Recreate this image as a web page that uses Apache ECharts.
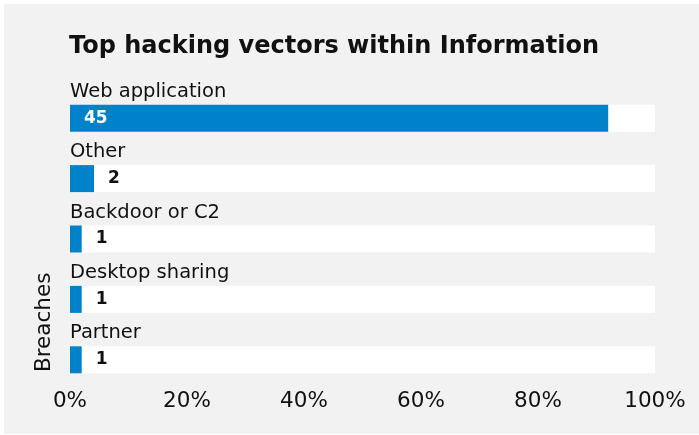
<!DOCTYPE html>
<html>
<head>
<meta charset="utf-8">
<script src="https://cdn.jsdelivr.net/npm/echarts@6/dist/echarts.min.js"></script>
<style>
  html, body { margin: 0; padding: 0; background: #fff; }
  #chart { width: 699px; height: 435px; }
</style>
</head>
<body>
<div id="chart"></div>
<script>
// Chart data
const categories = ['Web application', 'Other', 'Backdoor or C2', 'Desktop sharing', 'Partner']
const breachCounts = [45, 2, 1, 1, 1]
const breachShares = [92, 4.1, 2, 2, 2] // percent of breaches
const xTicks = [0, 20, 40, 60, 80, 100]

const BLUE = '#0082ca'
const PANEL = '#f2f2f2'
const FONT = '"DejaVu Sans", "Liberation Sans", Arial, sans-serif'

const chart = echarts.init(document.getElementById('chart'), null, { renderer: 'canvas' })

// big bars carry their count inside, small ones just to the right
const barData = breachShares.map((v) => {
  const inside = v > 20
  return {
    value: v,
    label: {
      position: inside ? 'insideLeft' : 'right',
      distance: 14,
      color: inside ? '#fff' : '#111',
    },
  }
})

chart.setOption({
  backgroundColor: '#fff',
  animation: false,
  textStyle: { fontFamily: FONT },
  graphic: [
    {
      type: 'rect',
      z: -10,
      silent: true,
      shape: { x: 4, y: 4, width: 695, height: 430 },
      style: { fill: PANEL },
    },
    {
      type: 'text',
      x: 44,
      y: 372,
      rotation: Math.PI / 2,
      style: {
        text: 'Breaches',
        font: '21.5px ' + FONT,
        fill: '#111',
        textAlign: 'left',
        textVerticalAlign: 'middle',
      },
    },
  ],
  title: {
    text: 'Top hacking vectors within Information',
    left: 69,
    top: 35,
    padding: 0,
    textStyle: { fontFamily: FONT, fontSize: 24, fontWeight: 'bold', color: '#111' },
  },
  grid: { left: 70, right: 44, top: 88, bottom: 45 },
  xAxis: {
    type: 'value',
    min: xTicks[0],
    max: xTicks[xTicks.length - 1],
    interval: 20,
    splitLine: { show: false },
    axisLine: { show: false },
    axisTick: { show: false },
    axisLabel: {
      margin: 0,
      fontSize: 21.5,
      color: '#111',
      fontFamily: FONT,
      formatter: '{value}%',
    },
  },
  yAxis: {
    type: 'category',
    inverse: true,
    data: categories,
    axisLine: { show: false },
    axisTick: { show: false },
    axisLabel: {
      inside: true,
      margin: 0,
      align: 'left',
      verticalAlign: 'bottom',
      lineHeight: 53,
      fontSize: 19.5,
      color: '#111',
      fontFamily: FONT,
    },
    z: 10,
  },
  series: [
    {
      type: 'bar',
      data: barData,
      barWidth: 27,
      showBackground: true,
      backgroundStyle: { color: '#fff' },
      itemStyle: { color: BLUE },
      label: {
        show: true,
        fontSize: 17,
        fontWeight: 'bold',
        fontFamily: FONT,
        formatter: (p) => String(breachCounts[p.dataIndex]),
      },
    },
  ],
})
</script>
</body>
</html>
